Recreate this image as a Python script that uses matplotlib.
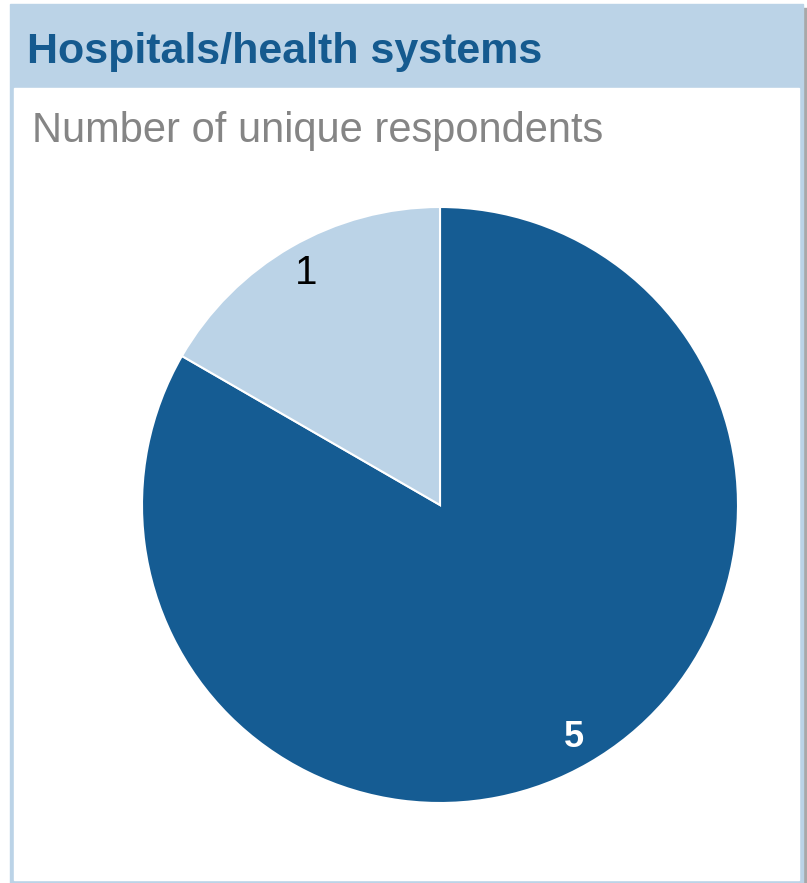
import matplotlib.pyplot as plt
from matplotlib.patches import Rectangle

## data
labels = ['5', '1']
counts = [5, 1]
colors = ['#155C93', '#BBD3E7']

title = "Hospitals/health systems"
subtitle = "Number of unique respondents"

W, H = 807, 883
fig = plt.figure(figsize=(W/100, H/100), dpi=100)
fig.patch.set_facecolor('white')

def px(x0, y0, x1, y1):
    ## pixel box (top-left origin) -> figure fraction rect
    return (x0/W, 1 - y1/H), (x1-x0)/W, (y1-y0)/H

light = '#BBD3E7'
## drop shadow on the right
xy, w, h = px(803, 8, 807, 883)
fig.patches.append(Rectangle(xy, w, h, transform=fig.transFigure, color='#A8A8A8', zorder=0))
## outer light blue panel
xy, w, h = px(10, 4, 803, 883)
fig.patches.append(Rectangle(xy, w, h, transform=fig.transFigure, color=light, zorder=1))
## white body
xy, w, h = px(14, 88, 799, 880)
fig.patches.append(Rectangle(xy, w, h, transform=fig.transFigure, color='white', zorder=2))

fnt = ['Liberation Sans', 'DejaVu Sans']
fig.text(27/W, 1 - 63/H, title, fontsize=31, fontweight='bold', color='#155A8F',
         family=fnt, va='baseline', ha='left', zorder=5)
fig.text(32/W, 1 - 142/H, subtitle, fontsize=30, color='#858585',
         family=fnt, va='baseline', ha='left', zorder=5)

## pie
xy, w, h = px(142, 207, 738, 803)
ax = fig.add_axes([xy[0], xy[1], w, h], zorder=4)
wedges, texts = ax.pie(counts, labels=labels, colors=colors, startangle=90,
                       counterclock=False, labeldistance=0.9,
                       wedgeprops=dict(edgecolor='white', linewidth=1.5))
ax.set_xlim(-1, 1)
ax.set_ylim(-1, 1)
ax.set_aspect('equal')
ax.axis('off')

texts[0].set(color='white', fontweight='bold', fontsize=26, family='Liberation Sans',
             ha='center', va='center')
texts[1].set(color='black', fontsize=29, family='Liberation Sans',
             ha='center', va='center')

fig.savefig('out.png', dpi=100)
